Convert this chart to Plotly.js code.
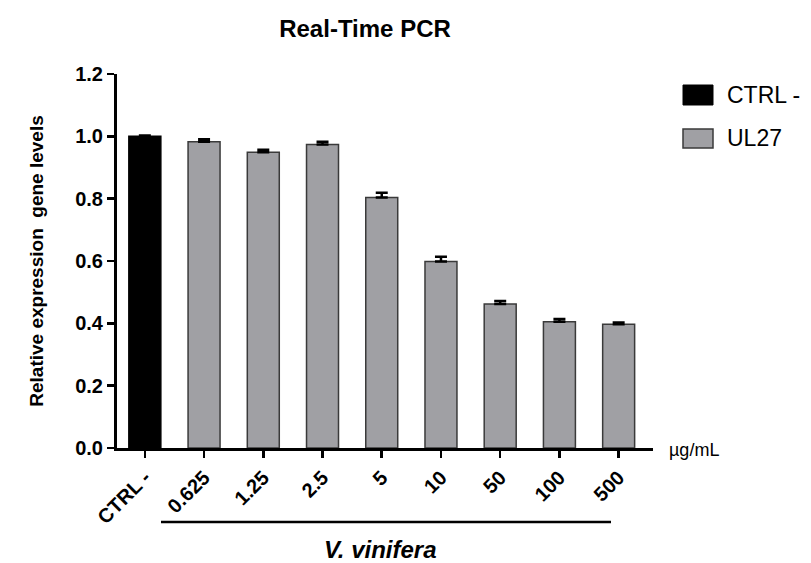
<!DOCTYPE html>
<html>
<head>
<meta charset="utf-8">
<script src="https://cdn.plot.ly/plotly-3.0.1.min.js"></script>
<style>html,body{margin:0;padding:0;background:#fff;}#chart{width:811px;height:563px;}</style>
</head>
<body>
<div id="chart"></div>
<script>
const ctrlCategory = ["CTRL -"];
const ctrlValues = [1.0];
const ctrlErrors = [0.003];
const doseCategories = ["0.625", "1.25", "2.5", "5", "10", "50", "100", "500"];
const doseValues = [0.983, 0.949, 0.974, 0.804, 0.598, 0.462, 0.405, 0.397];
const doseErrors = [0.008, 0.008, 0.009, 0.015, 0.016, 0.01, 0.009, 0.006];
const yTicks = [0, 0.2, 0.4, 0.6, 0.8, 1.0, 1.2];
const allCategories = ctrlCategory.concat(doseCategories);

const fontFam = "Liberation Sans, Arial, sans-serif";

const traces = [
  {
    type: "bar", name: "CTRL -", x: ctrlCategory, y: ctrlValues,
    width: 0.54,
    marker: {color: "#000000", line: {color: "#000000", width: 1.5}},
    error_y: {type: "data", array: ctrlErrors, arrayminus: ctrlErrors.map(() => 0), symmetric: false, color: "#000", thickness: 2.5, width: 6},
    showlegend: false
  },
  {
    type: "bar", name: "UL27", x: doseCategories, y: doseValues,
    width: 0.54,
    marker: {color: "#a0a0a4", line: {color: "#3a3a3a", width: 1.5}},
    error_y: {type: "data", array: doseErrors, arrayminus: doseErrors.map(() => 0), symmetric: false, color: "#000", thickness: 2.5, width: 6},
    showlegend: false
  }
];

const layout = {
  width: 811, height: 563,
  margin: {l: 117, r: 158, t: 74, b: 115},
  paper_bgcolor: "#fff", plot_bgcolor: "#fff",
  barmode: "overlay",
  font: {family: fontFam, color: "#000"},
  title: {text: "Real-Time PCR", font: {family: fontFam, size: 24, weight: "bold", color: "#000"},
          x: 365/811, xref: "container", xanchor: "center", y: 1 - 29/563, yref: "container", yanchor: "middle"},
  xaxis: {
    type: "category", categoryorder: "array", categoryarray: allCategories,
    range: [-0.47, 8.58],
    showline: true, linecolor: "#000", linewidth: 3,
    ticks: "outside", ticklen: 7, tickwidth: 2.5, tickcolor: "#000",
    tickangle: -45,
    tickfont: {family: fontFam, size: 20, weight: "bold", color: "#000"},
    showgrid: false, zeroline: false, fixedrange: true
  },
  yaxis: {
    range: [0, 1.2],
    tickvals: yTicks, tickformat: ".1f",
    showline: true, linecolor: "#000", linewidth: 3,
    ticks: "outside", ticklen: 7, tickwidth: 2.5, tickcolor: "#000",
    tickfont: {family: fontFam, size: 20, weight: "bold", color: "#000"},
    showgrid: false, zeroline: false, fixedrange: true,
    automargin: false,
    title: {text: "Relative expression  gene levels", font: {family: fontFam, size: 19, weight: "bold", color: "#000"}, standoff: 27}
  },
  shapes: [
    {type: "rect", xref: "paper", yref: "paper", x0: (683-117)/536, x1: (713-117)/536, y0: (448-105)/374, y1: (448-85)/374,
     fillcolor: "#000", line: {color: "#000", width: 1}},
    {type: "rect", xref: "paper", yref: "paper", x0: (683-117)/536, x1: (713-117)/536, y0: (448-148)/374, y1: (448-129)/374,
     fillcolor: "#a0a0a4", line: {color: "#3a3a3a", width: 1.5}},
    {type: "line", xref: "paper", yref: "paper", x0: (161-117)/536, x1: (611-117)/536, y0: (448-522)/374, y1: (448-522)/374,
     line: {color: "#000", width: 2.5}}
  ],
  annotations: [
    {text: "CTRL -", xref: "paper", yref: "paper", x: (725-117)/536, y: (448-95)/374, xanchor: "left", yanchor: "middle", showarrow: false,
     font: {family: fontFam, size: 23, color: "#000"}},
    {text: "UL27", xref: "paper", yref: "paper", x: (725-117)/536, y: (448-138)/374, xanchor: "left", yanchor: "middle", showarrow: false,
     font: {family: fontFam, size: 23, color: "#000"}},
    {text: "µg/mL", xref: "paper", yref: "paper", x: (667-117)/536, y: (448-450)/374, xanchor: "left", yanchor: "middle", showarrow: false,
     font: {family: fontFam, size: 18, color: "#000"}},
    {text: "<i>V. vinifera</i>", xref: "paper", yref: "paper", x: (380-117)/536, y: (448-549)/374, xanchor: "center", yanchor: "middle", showarrow: false,
     font: {family: fontFam, size: 24, weight: "bold", color: "#000"}}
  ]
};

Plotly.newPlot("chart", traces, layout, {displayModeBar: false, staticPlot: true});
</script>
</body>
</html>
